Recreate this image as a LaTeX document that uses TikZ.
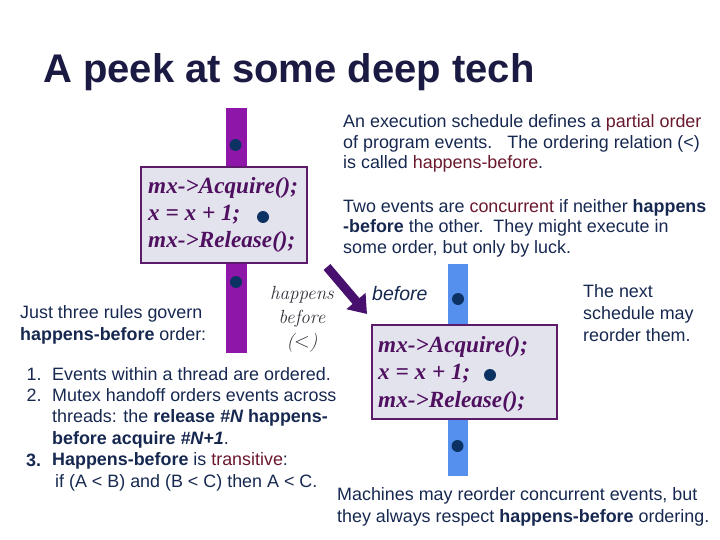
\documentclass[tikz,border=0pt]{standalone}
\usepackage{fontspec}
\newfontfamily\arial{Liberation Sans}
\newfontfamily\tnr{Liberation Serif}
\usetikzlibrary{arrows.meta}
\definecolor{navy}{RGB}{22,40,80}
\definecolor{titlenavy}{RGB}{26,26,66}
\definecolor{maroon}{RGB}{106,24,44}
\definecolor{barpurple}{RGB}{142,22,168}
\definecolor{barblue}{RGB}{85,144,238}
\definecolor{dotblue}{RGB}{12,50,100}
\definecolor{boxfill}{RGB}{227,227,238}
\definecolor{boxline}{RGB}{92,26,104}
\definecolor{codecol}{RGB}{80,16,96}
\definecolor{arrowcol}{RGB}{72,16,110}
\definecolor{hbgray}{RGB}{50,50,60}
\tikzset{
  txt/.style={inner sep=0pt, anchor=base west, align=left, text=navy,
    font=\arial\fontsize{17.9bp}{20.5bp}\selectfont},
  bar/.style={inner sep=0pt, draw=none},
  evdot/.style={circle, fill=dotblue, inner sep=0pt, minimum size=12bp},
  codebox/.style={draw=boxline, line width=2bp, fill=boxfill, inner sep=0pt},
  code/.style={inner sep=0pt, anchor=base west, align=left, text=codecol,
    font=\tnr\bfseries\itshape\fontsize{23.2bp}{27.2bp}\selectfont},
}
\begin{document}
\begin{tikzpicture}[x=1bp,y=-1bp]
\useasboundingbox (0,0) rectangle (720,540);

% title
\node (title) [inner sep=0pt, anchor=base west, text=titlenavy,
  font=\arial\bfseries\fontsize{40bp}{44bp}\selectfont] at (43,83) {A peek at some deep tech};

% thread 1
\node (bar1) [bar, fill=barpurple, minimum width=21bp, minimum height=245bp] at (236.5,230.5) {};
\node (e1) [evdot] at (235.5,145) {};
\node (e3) [evdot] at (236,282) {};
\node (box1) [codebox, minimum width=166bp, minimum height=96bp] at (224,215) {};
\node (code1) [code] at (148,248) {mx->Acquire();\\x = x + 1;\\mx->Release();};
\node (e2) [evdot] at (263,217) {};

% thread 2
\node (bar2) [bar, fill=barblue, minimum width=20bp, minimum height=212bp] at (458,370) {};
\node (f1) [evdot] at (458,299) {};
\node (f3) [evdot] at (457.5,446) {};
\node (box2) [codebox, minimum width=185bp, minimum height=94bp] at (464.5,372) {};
\node (code2) [code] at (378,407) {mx->Acquire();\\x = x + 1;\\mx->Release();};
\node (f2) [evdot] at (490,375) {};

% happens-before arrow
\coordinate (hbs) at (327,267);
\coordinate (hbe) at (367,314);
\draw[arrowcol, line width=9bp, -{Triangle[length=17bp,width=24bp]}] (hbs) -- (hbe);
\node (hb) [inner sep=0pt, anchor=base, align=center, text=hbgray,
  font=\itshape\fontsize{19bp}{24bp}\selectfont] at (302,347) {happens\\before\\($<$)};
\node (before) [txt, font=\arial\itshape\fontsize{19.5bp}{22bp}\selectfont] at (372,300) {before};

% top-right text
\node (p1) [txt] at (343,169) {An execution schedule defines a \textcolor{maroon}{partial order}\\of program events.\ \ \ The ordering relation (<)\\is called \textcolor{maroon}{happens-before}.};
\node (p2) [txt] at (343,253.5) {Two events are \textcolor{maroon}{concurrent} if neither \textbf{happens}\\\textbf{-before} the other.\ \ They might execute in\\some order, but only by luck.};

% left text
\node (rules) [txt, font=\arial\fontsize{17.9bp}{22bp}\selectfont] at (20,340) {Just three rules govern\\\textbf{happens-before} order:};
\node (n1) [txt] at (26.5,380) {1.};
\node (n2) [txt] at (26.5,401.5) {2.};
\node (n3) [txt] at (26,466) {\textbf{3.}};
\node (list) [txt, font=\arial\fontsize{17.9bp}{21.4bp}\selectfont] at (52,487) {Events within a thread are ordered.\\Mutex handoff orders events across\\threads: the \textbf{release \textit{\#N} happens-}\\\textbf{before acquire \textit{\#N+1}}.\\\textbf{Happens-before} is \textcolor{maroon}{transitive}:\\\hspace*{3bp}if (A < B) and (B < C) then A < C.};

% right text
\node (next) [txt, font=\arial\fontsize{17.9bp}{22bp}\selectfont] at (583,341) {The next\\schedule may\\reorder them.};
\node (bottom) [txt, font=\arial\fontsize{17.9bp}{22bp}\selectfont] at (337,522) {Machines may reorder concurrent events, but\\they always respect \textbf{happens-before} ordering.};
\end{tikzpicture}
\end{document}
